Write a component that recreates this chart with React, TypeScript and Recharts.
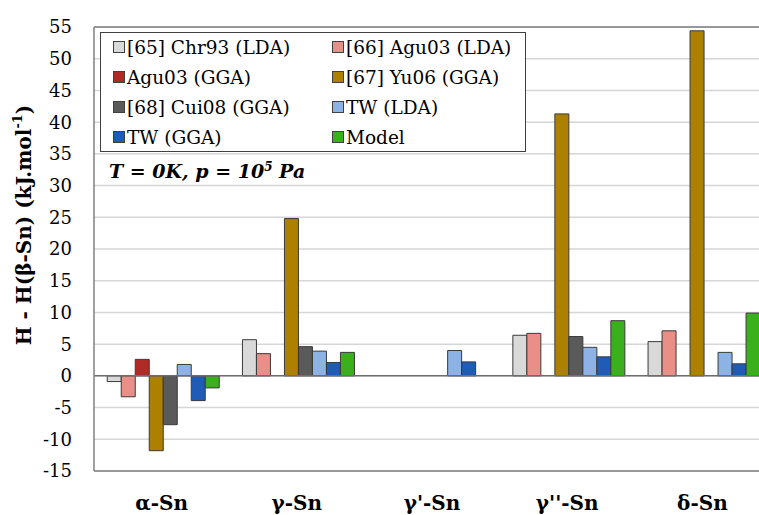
import { BarChart, Bar, XAxis, YAxis, CartesianGrid, Legend, ReferenceLine } from 'recharts';

const FONT = "'DejaVu Serif', serif";

// Enthalpy difference relative to β-Sn, kJ/mol (null = not reported)
const phases = ['α-Sn', 'γ-Sn', "γ'-Sn", "γ''-Sn", 'δ-Sn'];
const chr93Lda = [-0.9, 5.7, null, 6.4, 5.4];
const agu03Lda = [-3.3, 3.5, null, 6.7, 7.1];
const agu03Gga = [2.6, null, null, null, null];
const yu06Gga = [-11.8, 24.8, null, 41.3, 54.4];
const cui08Gga = [-7.7, 4.6, null, 6.2, null];
const twLda = [1.8, 3.9, 4.0, 4.5, 3.7];
const twGga = [-3.9, 2.1, 2.2, 3.0, 1.9];
const model = [-1.9, 3.7, null, 8.7, 9.9];

const yTicks = [-15, -10, -5, 0, 5, 10, 15, 20, 25, 30, 35, 40, 45, 50, 55];

const series = [
  { key: 'chr93Lda', name: '[65] Chr93 (LDA)', color: '#d9d9d9', values: chr93Lda },
  { key: 'agu03Lda', name: '[66] Agu03 (LDA)', color: '#e98f88', values: agu03Lda },
  { key: 'agu03Gga', name: 'Agu03 (GGA)', color: '#b22a25', values: agu03Gga },
  { key: 'yu06Gga', name: '[67] Yu06 (GGA)', color: '#ae8000', values: yu06Gga },
  { key: 'cui08Gga', name: '[68] Cui08 (GGA)', color: '#5a5a5a', values: cui08Gga },
  { key: 'twLda', name: 'TW (LDA)', color: '#8db3e6', values: twLda },
  { key: 'twGga', name: 'TW (GGA)', color: '#1f5cb8', values: twGga },
  { key: 'model', name: 'Model', color: '#39b01c', values: model },
];

const data = phases.map((phase, i) => {
  const row: Record<string, string | number | null> = { phase };
  series.forEach((s) => {
    row[s.key] = s.values[i];
  });
  return row;
});

// two-column legend, kept in series order (row by row)
function LegendBox() {
  return (
    <div
      style={{
        background: '#fff',
        border: '1px solid #404040',
        display: 'grid',
        gridTemplateColumns: '219px 200px',
        padding: '0 0 0 12px',
        fontFamily: FONT,
        fontSize: 18.5,
        color: '#000',
        boxSizing: 'border-box',
        height: 120,
        alignContent: 'center',
      }}
    >
      {series.map((s) => (
        <div key={s.key} style={{ display: 'flex', alignItems: 'center', height: 30, whiteSpace: 'nowrap' }}>
          <span
            style={{
              display: 'inline-block',
              width: 10,
              height: 10,
              background: s.color,
              border: '1px solid #404040',
              marginRight: 2,
            }}
          />
          {s.name}
        </div>
      ))}
    </div>
  );
}

function YTitle({ viewBox }: any) {
  const cx = viewBox.x + 24;
  const cy = viewBox.y + viewBox.height / 2 - 24;
  return (
    <text
      x={cx}
      y={cy}
      transform={`rotate(-90, ${cx}, ${cy})`}
      textAnchor="middle"
      dominantBaseline="central"
      style={{ fontFamily: FONT }}
      fontWeight="bold"
      fontSize={20}
      fill="#000"
    >
      H - H(β-Sn) (kJ.mol
      <tspan dy={-7} fontSize={13}>-1</tspan>
      <tspan dy={7}>)</tspan>
    </text>
  );
}

export default function App() {
  return (
    <div
      style={{
        position: 'absolute',
        left: 0,
        top: 0,
        width: 759,
        height: 515,
        overflow: 'hidden',
        background: '#fff',
      }}
    >
      <BarChart
        width={800}
        height={515}
        data={data}
        margin={{ top: 27, right: 30, left: 0, bottom: 14 }}
        barCategoryGap="9.8%"
        barGap={0}
      >
        <CartesianGrid vertical={false} stroke="#d6d6d6" strokeWidth={1.5} />
        <XAxis
          dataKey="phase"
          height={30}
          tickLine={false}
          axisLine={{ stroke: '#808080', strokeWidth: 1.5 }}
          tickSize={0}
          tickMargin={25}
          tick={{ style: { fontFamily: FONT }, fontSize: 20, fontWeight: 'bold', fill: '#000' }}
          interval={0}
        />
        <YAxis
          domain={[-15, 55]}
          ticks={yTicks}
          interval={0}
          allowDataOverflow
          width={94}
          tickLine={false}
          tickSize={0}
          tickMargin={22}
          axisLine={{ stroke: '#808080', strokeWidth: 1.5 }}
          tick={{ style: { fontFamily: FONT }, fontSize: 18, fill: '#000' }}
          label={<YTitle />}
        />
        <ReferenceLine y={55} stroke="#808080" strokeWidth={1.5} />
        <ReferenceLine y={0} stroke="#6e6e6e" strokeWidth={1.5} />
        <Legend
          layout="horizontal"
          verticalAlign="middle"
          align="center"
          content={<LegendBox />}
          wrapperStyle={{ left: 100, top: 32, width: 426 }}
        />
        {series.map((s) => (
          <Bar
            key={s.key}
            dataKey={s.key}
            name={s.name}
            fill={s.color}
            stroke="#3a3a3a"
            strokeWidth={1}
            isAnimationActive={false}
          />
        ))}
      </BarChart>
      <div
        style={{
          position: 'absolute',
          left: 109,
          top: 160,
          fontFamily: FONT,
          fontSize: 19,
          fontWeight: 'bold',
          fontStyle: 'italic',
          color: '#000',
          whiteSpace: 'nowrap',
        }}
      >
        T = 0K, p = 10<sup style={{ fontSize: 12 }}>5</sup> Pa
      </div>
    </div>
  );
}
